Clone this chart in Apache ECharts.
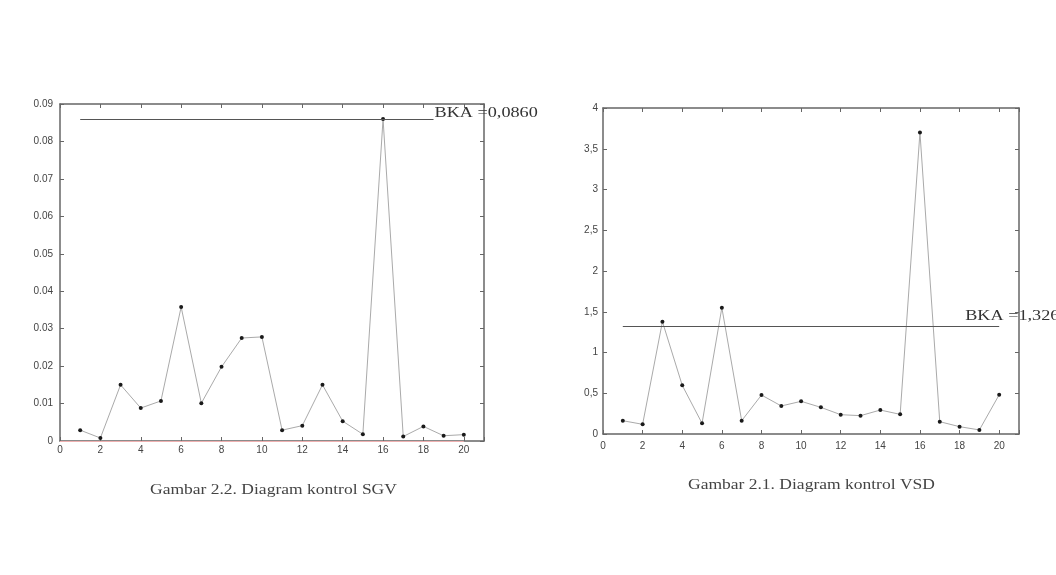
<!DOCTYPE html>
<html><head><meta charset="utf-8">
<script src="https://cdn.jsdelivr.net/npm/echarts@6/dist/echarts.min.js"></script>
<style>html,body{margin:0;padding:0;background:#fff}#c{width:1056px;height:575px}</style>
</head><body><div id="c"></div><script>
// ---- data ----
const samples = [1,2,3,4,5,6,7,8,9,10,11,12,13,14,15,16,17,18,19,20];
const sgvValues = [0.0029,0.0008,0.0150,0.0088,0.0107,0.0358,0.0101,0.0198,0.0275,0.0278,0.0029,0.0041,0.0150,0.0053,0.0018,0.0860,0.0012,0.0039,0.0014,0.0017];
const vsdValues = [0.163,0.119,1.378,0.597,0.131,1.550,0.163,0.478,0.344,0.401,0.327,0.237,0.225,0.294,0.241,3.700,0.151,0.090,0.050,0.482];
const sgvLimit = 0.0860;
const sgvLimitLabel = 'BKA =0,0860';
const sgvLimitSpan = [1, 18.5];
const sgvLowerLimit = 0;
const sgvLowerSpan = [0, 20];
const vsdLimit = 1.326;
const vsdLimitLabel = 'BKA =1,326';
const vsdLimitSpan = [1, 20];
const captions = ['Gambar 2.2. Diagram kontrol SGV', 'Gambar 2.1. Diagram kontrol VSD'];

// ---- chart ----
const axisColor = '#666';
const sans = '"Liberation Sans", Arial, sans-serif';
const serif = '"Liberation Serif", "Times New Roman", serif';
function xAx(grid, pos, showLabel) {
  return {
    type: 'value', gridIndex: grid, position: pos, min: 0, max: 21, interval: 2,
    axisLine: {show: true, onZero: false, lineStyle: {color: axisColor, width: 1.5}},
    axisTick: {show: true, inside: true, length: 4, lineStyle: {color: axisColor}},
    axisLabel: {show: showLabel, color: '#444', fontFamily: sans, fontSize: 10, margin: grid === 0 ? 4 : 7,
      formatter: v => (v % 2 === 0 ? String(v) : '')},
    splitLine: {show: false}
  };
}
function yAx(grid, pos, showLabel, max, interval, fmt) {
  return {
    type: 'value', gridIndex: grid, position: pos, min: 0, max: max, interval: interval,
    axisLine: {show: true, onZero: false, lineStyle: {color: axisColor, width: 1.5}},
    axisTick: {show: true, inside: true, length: 4, lineStyle: {color: axisColor}},
    axisLabel: {show: showLabel, color: '#444', fontFamily: sans, fontSize: 10, margin: grid === 0 ? 7 : 5, formatter: fmt},
    splitLine: {show: false}
  };
}
const fmtSgv = v => (Math.abs(v) < 1e-9 ? '0' : v.toFixed(2));
const fmtVsd = v => (Math.abs(v) < 1e-9 ? '0' : String(Math.round(v * 10) / 10).replace('.', ','));

function pts(vals) { return samples.map((s, i) => [s, vals[i]]); }

const chart = echarts.init(document.getElementById('c'), null, {renderer: 'canvas'});
chart.setOption({
  animation: false,
  backgroundColor: '#fff',
  grid: [
    {left: 60, top: 104, width: 424, height: 337},
    {left: 603, top: 108, width: 416, height: 326}
  ],
  xAxis: [xAx(0, 'bottom', true), xAx(0, 'top', false), xAx(1, 'bottom', true), xAx(1, 'top', false)],
  yAxis: [
    yAx(0, 'left', true, 0.09, 0.01, fmtSgv), yAx(0, 'right', false, 0.09, 0.01, fmtSgv),
    yAx(1, 'left', true, 4, 0.5, fmtVsd), yAx(1, 'right', false, 4, 0.5, fmtVsd)
  ],
  series: [
    {
      type: 'line', xAxisIndex: 0, yAxisIndex: 0, data: pts(sgvValues),
      symbol: 'circle', symbolSize: 4, itemStyle: {color: '#1a1a1a'},
      lineStyle: {color: '#aaa', width: 1}, z: 3,
      markLine: {
        silent: true, symbol: 'none', animation: false, label: {show: false},
        data: [
          [{coord: [sgvLimitSpan[0], sgvLimit]}, {coord: [sgvLimitSpan[1], sgvLimit]}],
          [{coord: [sgvLowerSpan[0], sgvLowerLimit], lineStyle: {color: '#eeb0b0', width: 1, type: 'solid'}},
           {coord: [sgvLowerSpan[1], sgvLowerLimit]}]
        ],
        lineStyle: {color: '#555', width: 1, type: 'solid'}
      }
    },
    {
      type: 'line', xAxisIndex: 2, yAxisIndex: 2, data: pts(vsdValues),
      symbol: 'circle', symbolSize: 4, itemStyle: {color: '#1a1a1a'},
      lineStyle: {color: '#aaa', width: 1}, z: 3,
      markLine: {
        silent: true, symbol: 'none', animation: false, label: {show: false},
        data: [
          [{coord: [vsdLimitSpan[0], vsdLimit]}, {coord: [vsdLimitSpan[1], vsdLimit]}]
        ],
        lineStyle: {color: '#555', width: 1, type: 'solid'}
      }
    }
  ]
});

// labels placed from the data through the chart's own scales
const pL = chart.convertToPixel({gridIndex: 0}, [sgvLimitSpan[1], sgvLimit]);
const pR = chart.convertToPixel({gridIndex: 1}, [vsdLimitSpan[1], vsdLimit]);
chart.setOption({
  graphic: [
    {type: 'text', x: pL[0] + 1, y: pL[1] - 6, scaleX: 1.3, z: 10,
      style: {text: sgvLimitLabel, font: '14px ' + serif, fill: '#333', textVerticalAlign: 'middle'}},
    {type: 'text', x: pR[0] - 34, y: pR[1] - 10, scaleX: 1.3, z: 10,
      style: {text: vsdLimitLabel, font: '14px ' + serif, fill: '#333', textVerticalAlign: 'middle'}},
    {type: 'text', x: 150, y: 490, scaleX: 1.25,
      style: {text: captions[0], font: '14px ' + serif, fill: '#444', textVerticalAlign: 'middle'}},
    {type: 'text', x: 688, y: 485, scaleX: 1.25,
      style: {text: captions[1], font: '14px ' + serif, fill: '#444', textVerticalAlign: 'middle'}}
  ]
});
</script></body></html>
